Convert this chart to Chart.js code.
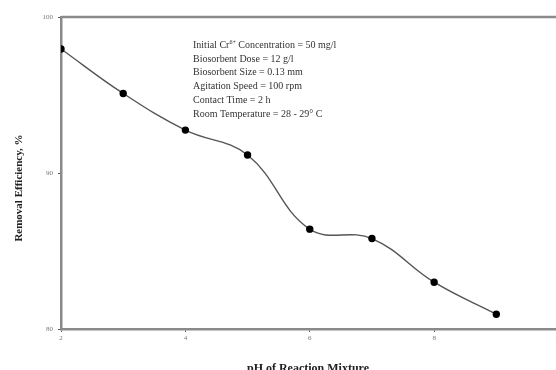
<!DOCTYPE html>
<html>
<head>
<meta charset="utf-8">
<script src="https://cdn.jsdelivr.net/npm/chart.js@4"></script>
<style>
    html, body { margin: 0; padding: 0; background: #fff; overflow: hidden; }
    #wrap { width: 564px; height: 370px; position: relative; }
</style>
</head>
<body>
<div id="wrap"><canvas id="chart"></canvas></div>
<script>
// pH values and removal efficiency
const phValues = [2, 3, 4, 5, 6, 7, 8, 9];
const removalEfficiency = [97.95, 95.1, 92.75, 91.15, 86.4, 85.8, 83.0, 80.95];
const yTicks = [80, 90, 100];
const xTicks = [2, 4, 6, 8, 10];
const xTitle = 'pH of Reaction Mixture';
const yTitle = 'Removal Efficiency, %';
const conditionLines = [
    ["Initial Cr", "6+", " Concentration = 50 mg/l"],
    ["Biosorbent Dose = 12 g/l"],
    ["Biosorbent Size = 0.13 mm"],
    ["Agitation Speed = 100 rpm"],
    ["Contact Time = 2 h"],
    ["Room Temperature = 28 - 29\u00B0 C"]
];

const frameColor = '#8a8a8a';

const framePlugin = {
    id: 'frameAndNotes',
    afterDraw(c) {
        const ctx = c.ctx;
        const a = c.chartArea;
        ctx.save();
        // top and right lines of the plot box
        ctx.strokeStyle = frameColor;
        ctx.lineWidth = 2.5;
        ctx.beginPath();
        ctx.moveTo(a.left, a.top);
        ctx.lineTo(a.right, a.top);
        ctx.lineTo(a.right, a.bottom);
        ctx.stroke();

        // axis titles
        ctx.fillStyle = '#222';
        ctx.font = 'bold 12px "Liberation Serif"';
        ctx.textAlign = 'center';
        ctx.textBaseline = 'alphabetic';
        ctx.fillText(xTitle, 308, 372);
        ctx.save();
        ctx.translate(22, 188);
        ctx.rotate(-Math.PI / 2);
        ctx.font = 'bold 11px "Liberation Serif"';
        ctx.fillText(yTitle, 0, 0);
        ctx.restore();

        // experimental conditions block
        ctx.textAlign = 'left';
        ctx.fillStyle = '#333';
        let y = 48;
        conditionLines.forEach((parts) => {
            let x = 193;
            parts.forEach((p, i) => {
                if (parts.length === 3 && i === 1) {
                    ctx.font = '6px "Liberation Serif"';
                    ctx.fillText(p, x, y - 4);
                } else {
                    ctx.font = '10px "Liberation Serif"';
                    ctx.fillText(p, x, y);
                }
                x += ctx.measureText(p).width;
            });
            y += 13.7;
        });
        ctx.restore();
    }
};

const chart = new Chart(document.getElementById('chart'), {
    type: 'line',
    data: {
        datasets: [{
            data: phValues.map((ph, i) => ({ x: ph, y: removalEfficiency[i] })),
            borderColor: '#555',
            borderWidth: 1.4,
            pointRadius: 3,
            pointBackgroundColor: '#000',
            pointBorderColor: '#000',
            tension: 0.4,
            fill: false
        }]
    },
    options: {
        responsive: true,
        maintainAspectRatio: false,
        animation: false,
        layout: { padding: { left: 0, top: 17, right: 4, bottom: 0 } },
        plugins: {
            legend: { display: false },
            tooltip: { enabled: false }
        },
        scales: {
            x: {
                type: 'linear',
                min: 2,
                max: 10,
                afterBuildTicks: (s) => { s.ticks = xTicks.map(v => ({ value: v })); },
                afterFit: (s) => { s.height = 41; },
                border: { color: frameColor, width: 2.5 },
                grid: { drawOnChartArea: false, drawTicks: true, tickLength: 3, color: '#555' },
                ticks: {
                    color: '#777',
                    padding: 2,
                    font: { family: 'Liberation Serif', size: 7 }
                }
            },
            y: {
                min: 80,
                max: 100,
                afterBuildTicks: (s) => { s.ticks = yTicks.map(v => ({ value: v })); },
                afterFit: (s) => { s.width = 61; },
                border: { color: frameColor, width: 2.5 },
                grid: { drawOnChartArea: false, drawTicks: true, tickLength: 3, color: '#555' },
                ticks: {
                    color: '#777',
                    padding: 5,
                    font: { family: 'Liberation Serif', size: 7 }
                }
            }
        }
    },
    plugins: [framePlugin]
});
</script>
</body>
</html>
